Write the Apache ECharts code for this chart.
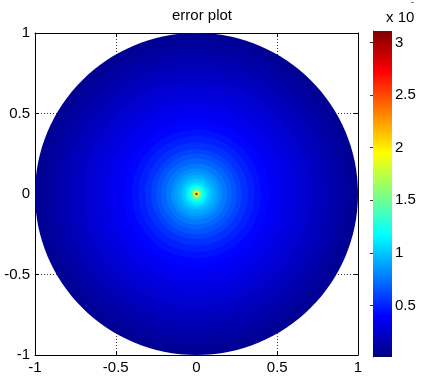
<!DOCTYPE html>
<html>
<head>
<meta charset="utf-8">
<script src="https://cdn.jsdelivr.net/npm/echarts@6/dist/echarts.min.js"></script>
<style>
  html, body { margin: 0; padding: 0; background: #fff; }
  #chart { width: 423px; height: 381px; }
</style>
</head>
<body>
<div id="chart"></div>
<script>
var ringRadius = [1.0, 0.95, 0.9, 0.85, 0.8, 0.75, 0.7, 0.65, 0.6, 0.55, 0.5, 0.45, 0.4, 0.36, 0.32,
  0.28, 0.25, 0.22, 0.19, 0.16, 0.14, 0.12, 0.1, 0.085, 0.07, 0.055, 0.045, 0.035, 0.026, 0.018, 0.011, 0.006];
var ringValue = [0.07, 0.1, 0.13, 0.16, 0.19, 0.22, 0.25, 0.28, 0.31, 0.34, 0.37, 0.41, 0.45, 0.49, 0.54,
  0.6, 0.65, 0.7, 0.76, 0.82, 0.87, 0.92, 0.98, 1.03, 1.1, 1.18, 1.26, 1.38, 1.55, 1.8, 2.2, 3.0];
var axisTicks = [-1, -0.5, 0, 0.5, 1];
var cbarTicks = [0.5, 1, 1.5, 2, 2.5, 3];
var cbarMin = 0.01, cbarMax = 3.11;

var jet = ['#000080', '#0000ff', '#0080ff', '#00ffff', '#80ff80', '#ffff00', '#ff8000', '#ff0000', '#800000'];
var font = 'Liberation Sans, Arial, sans-serif';

var myChart = echarts.init(document.getElementById('chart'));

var mainAxis = function (pos, showLabel) {
  return {
    type: 'value', min: -1, max: 1, interval: 0.5, position: pos,
    gridIndex: 0,
    axisLine: { show: true, onZero: false, lineStyle: { color: '#000', width: 1 } },
    axisTick: { show: true, inside: true, length: 4, lineStyle: { color: '#000' } },
    axisLabel: { show: showLabel, color: '#000', fontSize: 15, fontFamily: font, margin: 5 },
    splitLine: { show: showLabel, lineStyle: { color: '#333', type: [1, 2], width: 1 } }
  };
};

var option = {
  animation: false,
  title: {
    text: 'error plot', left: 197, top: 3, textAlign: 'center',
    textStyle: { fontSize: 15, fontWeight: 'normal', color: '#000', fontFamily: font }
  },
  graphic: [{
    type: 'text', left: 386, top: 10,
    style: { text: 'x 10', fontSize: 15, fill: '#000', fontFamily: font }
  }, {
    type: 'text', left: 411, top: -2,
    style: { text: '-', fontSize: 9, fill: '#000', fontFamily: font }
  }],
  grid: [
    { left: 35, top: 33, width: 323, height: 322 },
    { left: 373, top: 31, width: 19, height: 326 }
  ],
  xAxis: [
    mainAxis('bottom', true),
    mainAxis('top', false),
    { type: 'value', gridIndex: 1, min: 0, max: 1, show: false }
  ],
  yAxis: [
    mainAxis('left', true),
    mainAxis('right', false),
    {
      type: 'value', gridIndex: 1, min: cbarMin, max: cbarMax, position: 'right',
      axisLine: { show: true, lineStyle: { color: '#333' } },
      axisTick: { show: true, inside: true, length: 3, customValues: cbarTicks, lineStyle: { color: '#333' } },
      axisLabel: { show: true, customValues: cbarTicks, color: '#000', fontSize: 15, fontFamily: font, margin: 3 },
      splitLine: { show: false }
    },
    {
      type: 'value', gridIndex: 1, min: cbarMin, max: cbarMax, position: 'left',
      axisLine: { show: false },
      axisTick: { show: true, inside: true, length: 3, customValues: cbarTicks, lineStyle: { color: '#333' } },
      axisLabel: { show: false },
      splitLine: { show: false }
    }
  ],
  visualMap: {
    show: false, type: 'continuous', seriesIndex: 0, dimension: 1,
    min: cbarMin, max: cbarMax, inRange: { color: jet }
  },
  series: [
    {
      type: 'custom', xAxisIndex: 0, yAxisIndex: 0,
      data: ringRadius.map(function (r, i) { return [r, ringValue[i]]; }),
      renderItem: function (params, api) {
        var c = api.coord([0, 0]);
        var s = api.size([api.value(0), api.value(0)]);
        return {
          type: 'ellipse',
          shape: { cx: c[0], cy: c[1], rx: s[0], ry: s[1] },
          style: { fill: api.visual('color') }
        };
      }
    },
    {
      type: 'custom', xAxisIndex: 2, yAxisIndex: 2,
      data: [[0, cbarMin, 1, cbarMax]],
      z: 1,
      renderItem: function (params, api) {
        var p0 = api.coord([api.value(0), api.value(3)]);
        var p1 = api.coord([api.value(2), api.value(1)]);
        return {
          type: 'rect',
          shape: { x: p0[0], y: p0[1], width: p1[0] - p0[0], height: p1[1] - p0[1] },
          style: {
            fill: new echarts.graphic.LinearGradient(0, 1, 0, 0,
              jet.map(function (col, i) { return { offset: i / (jet.length - 1), color: col }; }))
          }
        };
      }
    }
  ]
};

myChart.setOption(option);
</script>
</body>
</html>
